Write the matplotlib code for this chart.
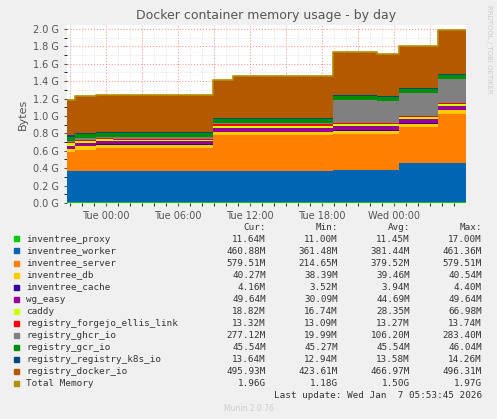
import numpy as np
import matplotlib.pyplot as plt
from matplotlib.ticker import FuncFormatter, MultipleLocator

# segment edges in hours relative to Tue 00:00
edges = [-3.25, -2.6, -0.8, 0.6, 8.9, 10.6, 18.9, 22.6, 24.4, 27.7, 30.0]

# values in GB per segment (stack order bottom -> top)
inventree_proxy = [0.011] * 10
inventree_worker = [0.355, 0.355, 0.355, 0.355, 0.355, 0.355, 0.37, 0.37, 0.45, 0.45]
inventree_server = [0.215, 0.245, 0.265, 0.265, 0.41, 0.41, 0.41, 0.41, 0.41, 0.565]
inventree_db = [0.04] * 10
inventree_cache = [0.004] * 10
wg_easy = [0.03, 0.03, 0.035, 0.035, 0.045, 0.045, 0.045, 0.045, 0.05, 0.05]
caddy = [0.03, 0.03, 0.02, 0.017, 0.025, 0.025, 0.025, 0.025, 0.018, 0.019]
registry_forgejo = [0.013] * 10
registry_ghcr = [0.02, 0.02, 0.02, 0.02, 0.02, 0.02, 0.27, 0.25, 0.27, 0.277]
registry_gcr = [0.045] * 10
registry_k8s = [0.013] * 10
registry_docker = [0.41, 0.42, 0.42, 0.42, 0.43, 0.48, 0.49, 0.49, 0.48, 0.496]

series = [
    ('inventree_proxy', inventree_proxy, '#00cc00'),
    ('inventree_worker', inventree_worker, '#0066b3'),
    ('inventree_server', inventree_server, '#ff8000'),
    ('inventree_db', inventree_db, '#ffcc00'),
    ('inventree_cache', inventree_cache, '#330099'),
    ('wg_easy', wg_easy, '#990099'),
    ('caddy', caddy, '#ccff00'),
    ('registry_forgejo_ellis_link', registry_forgejo, '#ff0000'),
    ('registry_ghcr_io', registry_ghcr, '#808080'),
    ('registry_gcr_io', registry_gcr, '#008f00'),
    ('registry_registry_k8s_io', registry_k8s, '#00487d'),
    ('registry_docker_io', registry_docker, '#b35a00'),
]

legend_rows = [
    ('inventree_proxy', '11.64M', '11.00M', '11.45M', '17.00M'),
    ('inventree_worker', '460.88M', '361.48M', '381.44M', '461.36M'),
    ('inventree_server', '579.51M', '214.65M', '379.52M', '579.51M'),
    ('inventree_db', '40.27M', '38.39M', '39.46M', '40.54M'),
    ('inventree_cache', '4.16M', '3.52M', '3.94M', '4.40M'),
    ('wg_easy', '49.64M', '30.09M', '44.69M', '49.64M'),
    ('caddy', '18.82M', '16.74M', '28.35M', '66.98M'),
    ('registry_forgejo_ellis_link', '13.32M', '13.09M', '13.27M', '13.74M'),
    ('registry_ghcr_io', '277.12M', '19.99M', '106.20M', '283.40M'),
    ('registry_gcr_io', '45.54M', '45.27M', '45.54M', '46.04M'),
    ('registry_registry_k8s_io', '13.64M', '12.94M', '13.58M', '14.26M'),
    ('registry_docker_io', '495.93M', '423.61M', '466.97M', '496.31M'),
    ('Total Memory', '1.96G', '1.18G', '1.50G', '1.97G'),
]
colors = [c for _, _, c in series] + ['#b38f00']

fig = plt.figure(figsize=(4.97, 4.19), dpi=100, facecolor='#f0f0f0')
W, H = 497, 419
ax = fig.add_axes([67 / W, 1 - 203 / H, (466 - 67) / W, (203 - 25) / H])
ax.set_facecolor('white')

x = np.array(edges)
base = np.zeros(len(edges))
for name, vals, col in series:
    v = np.append(np.array(vals), vals[-1]) * 1e9
    ax.fill_between(x, base, base + v, step='post', color=col, lw=0, zorder=2)
    base = base + v
ax.step(x, base, where='post', color='#b38f00', lw=1.2, zorder=3)

ax.set_xlim(-3.25, 30)
ax.set_ylim(0, 2.0e9 * 178 / 174)
ax.yaxis.set_major_locator(MultipleLocator(0.2e9))
ax.yaxis.set_minor_locator(MultipleLocator(0.1e9))
ax.yaxis.set_major_formatter(FuncFormatter(lambda v, p: f'{v / 1e9:.1f} G'))
ax.set_xticks([0, 6, 12, 18, 24])
ax.set_xticklabels(['Tue 00:00', 'Tue 06:00', 'Tue 12:00', 'Tue 18:00', 'Wed 00:00'])
ax.set_xticks(np.arange(-3, 30, 1), minor=True)
ax.tick_params(labelsize=7, colors='#555555', length=2)
ax.set_axisbelow(True)
ax.grid(which='minor', color='#dddddd', ls=':', lw=0.6, zorder=0)
ax.grid(which='major', axis='y', color='#ff9999', ls=':', lw=0.8, zorder=0)
for h in np.arange(-3, 30, 3):
    ax.axvline(h, color='#ff9999', ls=':', lw=0.8, zorder=0.5)
for s in ax.spines.values():
    s.set_visible(False)
ax.set_ylabel('Bytes', fontsize=8, color='#555555')
ax.set_title('Docker container memory usage - by day', fontsize=9, color='#555555', pad=4)
fig.text(492 / W, 1 - 5 / H, 'RRDTOOL / TOBI OETIKER', rotation=270, fontsize=5,
         color='#cccccc', ha='right', va='top')

mono = 'DejaVu Sans Mono'
y0 = 227
for xx, lab in zip([266, 338, 410, 482], ['Cur:', 'Min:', 'Avg:', 'Max:']):
    fig.text(xx / W, 1 - y0 / H, lab, family=mono, fontsize=6.7, ha='right', va='center', color='#333333')
for i, (row, col) in enumerate(zip(legend_rows, colors)):
    yy = 1 - (y0 + 12 * (i + 1)) / H
    fig.patches.append(plt.Rectangle((14 / W, yy - 2.5 / H), 5 / W, 5 / H, color=col,
                                     transform=fig.transFigure, figure=fig))
    fig.text(26 / W, yy, row[0], family=mono, fontsize=6.7, va='center', color='#333333')
    for xx, val in zip([266, 338, 410, 482], row[1:]):
        fig.text(xx / W, yy, val, family=mono, fontsize=6.7, ha='right', va='center', color='#333333')
fig.text(482 / W, 1 - 395 / H, 'Last update: Wed Jan  7 05:53:45 2026', family=mono,
         fontsize=6.7, ha='right', va='center', color='#333333')
fig.text(249 / W, 1 - 408 / H, 'Munin 2.0.76', fontsize=5.5, ha='center', va='center', color='#cccccc')

fig.savefig('out.png', dpi=100, facecolor=fig.get_facecolor())
